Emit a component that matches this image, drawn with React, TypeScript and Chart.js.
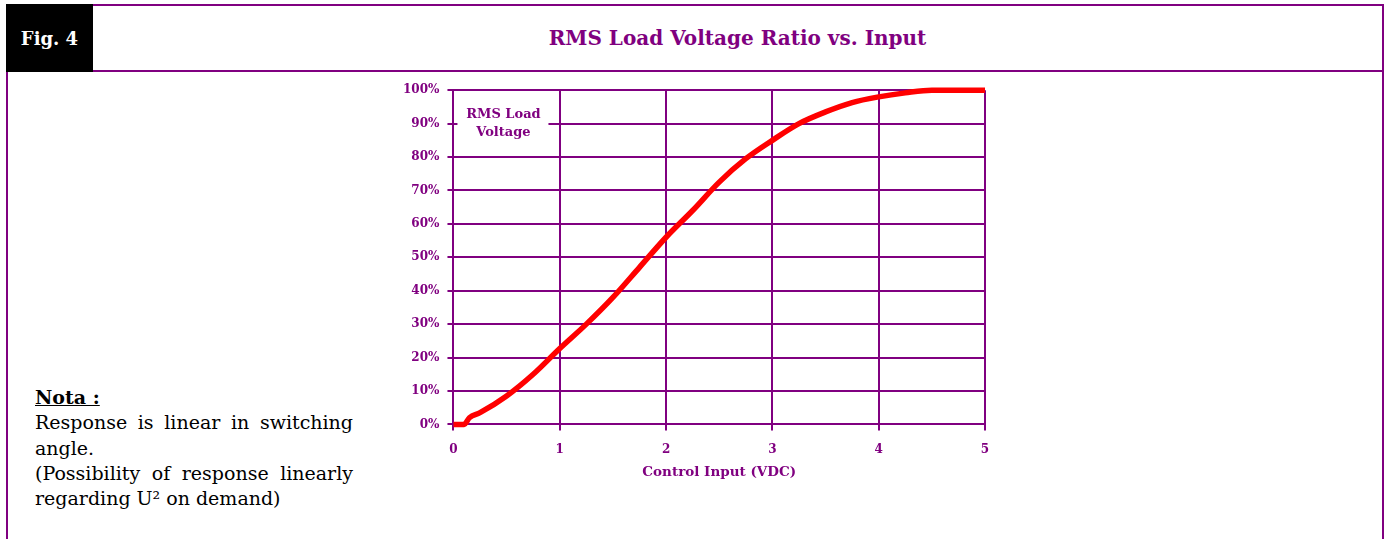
import React, { useEffect, useRef } from "react";
import { Chart, registerables } from "chart.js";

Chart.register(...registerables);

const controlInput = [0, 0.1, 0.15, 0.25, 0.5, 0.75, 1.0, 1.25, 1.5, 1.75, 2.0, 2.25, 2.5, 2.75, 3.0, 3.25, 3.5, 3.75, 4.0, 4.25, 4.5, 5.0];
const rmsRatio = [0, 0, 2, 3.5, 8.5, 15, 22.7, 30, 38, 47, 56, 64, 72.5, 79.5, 85, 90, 93.5, 96.3, 98, 99.2, 100, 100];
const xTicks = [0, 1, 2, 3, 4, 5];
const yTicks = [0, 10, 20, 30, 40, 50, 60, 70, 80, 90, 100];

const PURPLE = "#800080";
const FONT = "'DejaVu Serif', serif";

const innerLabel = {
  id: "innerLabel",
  afterDraw(chart: any) {
    const { ctx, chartArea } = chart;
    ctx.save();
    ctx.fillStyle = "#ffffff";
    ctx.fillRect(chartArea.left + 4, chartArea.top + 14, 91, 38);
    ctx.fillStyle = PURPLE;
    ctx.font = "bold 13px " + FONT;
    ctx.textAlign = "center";
    ctx.textBaseline = "middle";
    ctx.fillText("RMS Load", chartArea.left + 50, chartArea.top + 24);
    ctx.fillText("Voltage", chartArea.left + 50, chartArea.top + 42);
    ctx.restore();
  },
};

function LoadChart() {
  const ref = useRef<HTMLCanvasElement>(null);
  useEffect(() => {
    if (!ref.current) return;
    const chart = new Chart(ref.current, {
      type: "line",
      data: {
        datasets: [
          {
            data: controlInput.map((x, i) => ({ x, y: rmsRatio[i] })),
            borderColor: "#ff0000",
            borderWidth: 5.5,
            pointRadius: 0,
            cubicInterpolationMode: "monotone",
            clip: 6,
          },
        ],
      },
      options: {
        animation: false,
        responsive: false,
        maintainAspectRatio: false,
        layout: { padding: { top: 15, right: 25, left: 0, bottom: 0 } },
        plugins: { legend: { display: false }, tooltip: { enabled: false } },
        scales: {
          x: {
            type: "linear",
            min: 0,
            max: 5,
            afterBuildTicks: (s: any) => {
              s.ticks = xTicks.map((v) => ({ value: v }));
            },
            grid: { color: PURPLE, lineWidth: 2, tickLength: 6, drawTicks: true },
            border: { color: PURPLE, width: 2 },
            ticks: { color: PURPLE, font: { family: FONT, size: 12, weight: "bold" }, padding: 12, maxRotation: 0 },
            title: {
              display: true,
              text: "Control Input (VDC)",
              color: PURPLE,
              font: { family: FONT, size: 13.5, weight: "bold" },
              padding: { top: -4, bottom: 0 },
            },
          },
          y: {
            type: "linear",
            min: 0,
            max: 100,
            afterBuildTicks: (s: any) => {
              s.ticks = yTicks.map((v) => ({ value: v }));
            },
            grid: { color: PURPLE, lineWidth: 2, tickLength: 6 },
            border: { color: PURPLE, width: 2 },
            ticks: {
              color: PURPLE,
              font: { family: FONT, size: 12, weight: "bold" },
              padding: 8,
              callback: (v: any) => v + "%",
            },
          },
        },
      },
      plugins: [innerLabel],
    } as any);
    return () => chart.destroy();
  }, []);
  return <canvas ref={ref} width={615} height={406} style={{ position: "absolute", left: 395, top: 75, width: 615, height: 406 }} />;
}

export default function App() {
  return (
    <div style={{ position: "fixed", left: 0, top: 0, width: 1390, height: 539, background: "#fff", overflow: "hidden", fontFamily: FONT }}>
      <div style={{ position: "absolute", left: 6, top: 4, width: 1374, height: 600, border: "2px solid " + PURPLE }} />
      <div style={{ position: "absolute", left: 6, top: 70, width: 1378, height: 2, background: PURPLE }} />
      <div style={{ position: "absolute", left: 6, top: 4, width: 87, height: 68, background: "#000", color: "#fff", fontWeight: "bold", fontSize: 18, display: "flex", alignItems: "center", justifyContent: "center" }}>
        Fig. 4
      </div>
      <div style={{ position: "absolute", left: 93, top: 6, width: 1289, height: 64, display: "flex", alignItems: "center", justifyContent: "center", color: PURPLE, fontWeight: "bold", fontSize: 20 }}>
        RMS Load Voltage Ratio vs. Input
      </div>
      <div style={{ position: "absolute", left: 35, top: 385, width: 318, fontFamily: "'DejaVu Serif', 'Liberation Serif', serif", fontSize: 19, lineHeight: "25.3px", color: "#000", textAlign: "justify" }}>
        <div style={{ fontWeight: "bold", textDecoration: "underline" }}>Nota :</div>
        <div>Response is linear in switching angle.</div>
        <div>(Possibility of response linearly regarding U² on demand)</div>
      </div>
      <LoadChart />
    </div>
  );
}
